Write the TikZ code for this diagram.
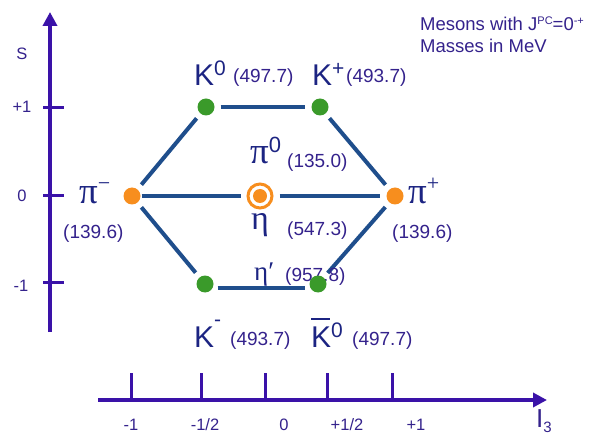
\documentclass[tikz,border=0pt]{standalone}
\usepackage{fontspec}
\setmainfont{Liberation Sans}
\newfontfamily\grk{Liberation Serif}
\usetikzlibrary{arrows.meta,backgrounds}
\definecolor{axiscol}{RGB}{58,18,168}
\definecolor{txtcol}{RGB}{52,34,140}
\definecolor{bigcol}{RGB}{28,36,130}
\definecolor{linecol}{RGB}{31,78,140}
\definecolor{gcol}{RGB}{58,154,42}
\definecolor{ocol}{RGB}{247,142,30}
\newcommand\fs[1]{\fontsize{#1}{#1}\selectfont}
\begin{document}
\begin{tikzpicture}[x=1pt,y=-1pt,
 axis/.style={draw=axiscol, line width=4.5pt, -{Triangle[length=14pt,width=14pt]}},
 tickmark/.style={draw=axiscol, line width=3pt},
 lab/.style={text=txtcol, font=\fs{16.5}, inner sep=0pt},
 gdot/.style={circle, fill=gcol, inner sep=0pt, minimum size=17pt},
 odot/.style={circle, fill=ocol, inner sep=0pt, minimum size=17pt},
 link/.style={draw=linecol, line width=4pt, shorten <=6pt, shorten >=6pt},
 mass/.style={text=txtcol, font=\fs{19}, inner sep=0pt, anchor=base west},
 big/.style={text=bigcol, inner sep=0pt, anchor=base west},
 info/.style={text=txtcol, font=\fs{18.5}, inner sep=0pt, anchor=base west},
]
\useasboundingbox (0,0) rectangle (596,435);

% ---- vertical axis (S)
\coordinate (Sbot) at (50,332);
\coordinate (Stop) at (50,12);
\draw[axis] (Sbot) -- (Stop);
\foreach \y in {108,196,282} \draw[tickmark] (43,\y) -- (64,\y);
\node[lab] (Slab) at (22,54) {S};
\node[lab] (Sp1) at (22,107) {+1};
\node[lab] (S0) at (22,196) {0};
\node[lab] (Sm1) at (21,286) {-1};

% ---- horizontal axis (I3)
\coordinate (Ibeg) at (98,400);
\coordinate (Iend) at (547,400);
\draw[axis] (Ibeg) -- (Iend);
\foreach \x in {131,201,265,327,392} \draw[tickmark] (\x,373) -- (\x,400);
\node[lab] (Im1) at (131,425) {-1};
\node[lab] (Imh) at (205,425) {-1/2};
\node[lab] (I0) at (284,425) {0};
\node[lab] (Iph) at (347,425) {+1/2};
\node[lab] (Ip1) at (416,425) {+1};
\node[text=txtcol, inner sep=0pt, anchor=base west] (I3) at (536,427) {\fs{26}I\raisebox{-5pt}{\fs{15}3}};

% ---- info
\node[info] (info1) at (420,31) {Mesons with J\raisebox{6.5pt}{\fs{11}PC}=0\raisebox{6.5pt}{\fs{11}-+}};
\node[info] (info2) at (420,53) {Masses in MeV};

% ---- particles
\node[gdot] (K0) at (206,107) {};
\node[gdot] (Kp) at (320,107) {};
\node[odot] (pim) at (132,196) {};
\node[odot] (pip) at (395,196) {};
\node[circle, draw=ocol, line width=3pt, inner sep=0pt, minimum size=24pt] (ctr) at (260,196) {};
\node[circle, fill=ocol, inner sep=0pt, minimum size=14pt] (ctrdot) at (ctr) {};
\node[gdot] (Km) at (205,284) {};
\node[gdot] (Kb) at (318,284) {};

\begin{scope}[on background layer]
\draw[link] (K0) -- (Kp);
\draw[link] (K0) -- (pim);
\draw[link] (Kp) -- (pip);
\draw[link] (pim) -- (Km);
\draw[link] (Kb) -- (pip);
\draw[link, shorten <=1pt] (pim) -- (ctr);
\draw[link] (ctr) -- (pip);
\draw[link, shorten <=4pt, shorten >=4pt] ([yshift=-4pt]Km.east) -- ([yshift=-4pt]Kb.west);
\node[big] (letap) at (254,280) {\grk\fs{27}η′};
\node[mass] (metap) at (285,281) {(957.8)};
\end{scope}

% ---- labels
\node[big] (lK0) at (194,86) {\fs{30}K\raisebox{10pt}{\fs{21}0}};
\node[mass] (mK0) at (233,83) {(497.7)};
\node[big] (lKp) at (312,86) {\fs{30}K\raisebox{10pt}{\fs{21}+}};
\node[mass] (mKp) at (346,83) {(493.7)};
\node[big] (lpim) at (79,204) {\grk\fs{37}π\raisebox{13pt}{\fs{22}−}};
\node[mass] (mpim) at (63,239) {(139.6)};
\node[big] (lpip) at (408,204) {\grk\fs{37}π\raisebox{13pt}{\fs{22}+}};
\node[mass] (mpip) at (392,239) {(139.6)};
\node[big] (lpi0) at (250,164) {\grk\fs{37}π\raisebox{11pt}{\fs{22}\rmfamily 0}};
\node[mass] (mpi0) at (287,168) {(135.0)};
\node[big] (leta) at (251,230) {\grk\fs{34}η};
\node[mass] (meta) at (287,236) {(547.3)};
\node[big] (lKm) at (194,347) {\fs{30}K\raisebox{21pt}{\fs{21}-}};
\node[mass] (mKm) at (230,345) {(493.7)};
\node[big] (lKb) at (311,347) {\fs{30}\makebox[0pt][l]{\raisebox{27pt}{\rule{19pt}{2.5pt}}}K\raisebox{10pt}{\fs{21}0}};
\node[mass] (mKb) at (352,345) {(497.7)};
\end{tikzpicture}
\end{document}
